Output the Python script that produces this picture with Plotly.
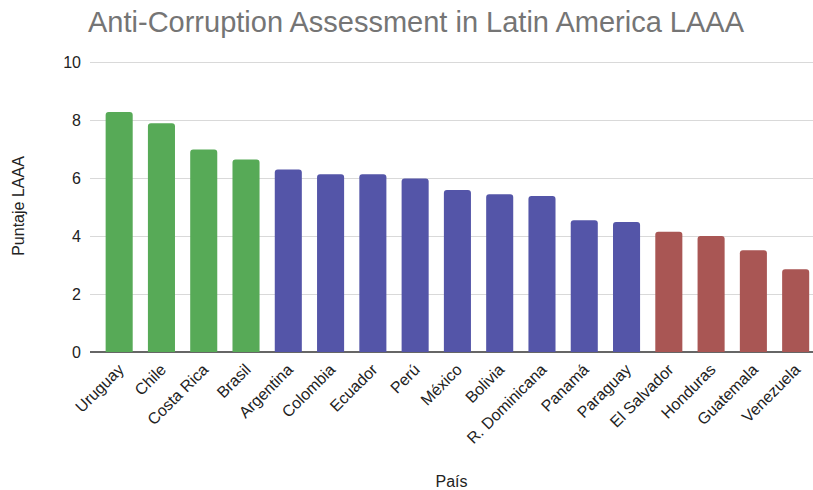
import plotly.graph_objects as go

# Country scores, ordered from highest to lowest
paises = ["Uruguay", "Chile", "Costa Rica", "Brasil", "Argentina", "Colombia",
          "Ecuador", "Perú", "México", "Bolivia", "R. Dominicana", "Panamá",
          "Paraguay", "El Salvador", "Honduras", "Guatemala", "Venezuela"]
puntajes = [8.30, 7.91, 7.00, 6.66, 6.31, 6.15, 6.15, 6.00, 5.60, 5.46, 5.40,
            4.56, 4.50, 4.16, 4.01, 3.52, 2.86]
grupos = ["alto"] * 4 + ["medio"] * 9 + ["bajo"] * 4

colores_grupo = {"alto": "#57aa57", "medio": "#5455a8", "bajo": "#a95654"}
colores = [colores_grupo[g] for g in grupos]

fig = go.Figure(
    go.Bar(
        x=paises,
        y=puntajes,
        marker=dict(color=colores, line=dict(width=0), cornerradius=3),
        showlegend=False,
    )
)

font_family = "Liberation Sans, Arial, sans-serif"

fig.update_layout(
    width=813,
    height=490,
    margin=dict(l=90, r=0, t=60, b=138),
    paper_bgcolor="white",
    plot_bgcolor="white",
    bargap=0.36,
    font=dict(family=font_family, color="#222222", size=16),
    title=dict(
        text="Anti-Corruption Assessment in Latin America LAAA",
        font=dict(family=font_family, size=29, color="#757575"),
        x=88 / 813,
        xanchor="left",
        y=1 - 22 / 490,
        yanchor="middle",
    ),
    xaxis=dict(
        range=[-0.69, 16.41],
        tickangle=-45,
        tickfont=dict(size=16, color="#222222"),
        showgrid=False,
        showline=False,
        ticks="",
        ticklabelstandoff=4,
        title=dict(text="País", font=dict(size=16, color="#222222"), standoff=30),
    ),
    yaxis=dict(
        range=[0, 10.1],
        tickvals=[0, 2, 4, 6, 8, 10],
        tickfont=dict(size=16, color="#222222"),
        showgrid=True,
        gridcolor="#d9d9d9",
        gridwidth=1,
        zeroline=True,
        zerolinecolor="#666666",
        zerolinewidth=2,
        ticks="",
        ticklabelstandoff=8,
        title=dict(text="Puntaje LAAA", font=dict(size=16, color="#222222"), standoff=34),
    ),
)

fig.write_html("out.html")
